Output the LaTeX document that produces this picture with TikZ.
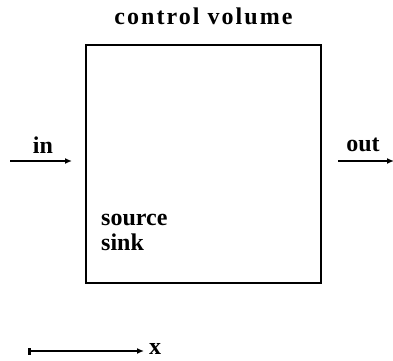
\documentclass[tikz,border=0pt]{standalone}
\usepackage{fontspec}
\setmainfont{Liberation Serif}
\usetikzlibrary{arrows.meta, positioning}
\tikzset{label/.style = {font = \bfseries\fontsize{24}{25}\selectfont, inner sep = 0pt}}
\tikzset{flow/.style = {-{Latex[length = 7pt, width = 6pt]}, line width = 1.5pt}}

\begin{document}
\begin{tikzpicture}[x = 1pt, y = -1pt]
				\useasboundingbox (0, 0) rectangle (393, 360);
				\node[draw, line width = 2pt, minimum width = 235pt, minimum height = 238pt] (cv) at (203.5, 164) {};
				\node[label, above = 19pt of cv.north] (title) {\addfontfeature{LetterSpace = 8.5}control volume};
				\node[label, anchor = north west, align = left] (src) at (101, 214) {source\\sink};

				\coordinate (ina) at (10, 161);
				\coordinate (inb) at (72, 161);
				\coordinate (outa) at (338, 161);
				\coordinate (outb) at (394, 161);
				\node[label] (in) at (43, 145) {in};
				\node[label] (out) at (363, 145) {out};
				\draw[flow] (ina) to (inb);
				\draw[flow] (outa) to (outb);

				\coordinate (xa) at (28, 351);
				\coordinate (xb) at (144, 351);
				\node[label, anchor = west] (x) at (149, 349) {x};
				\draw[{Bar[width = 7pt]}-{Latex[length = 7pt, width = 6pt]}, line width = 2.5pt] (xa) to (xb);
			\end{tikzpicture}
\end{document}
